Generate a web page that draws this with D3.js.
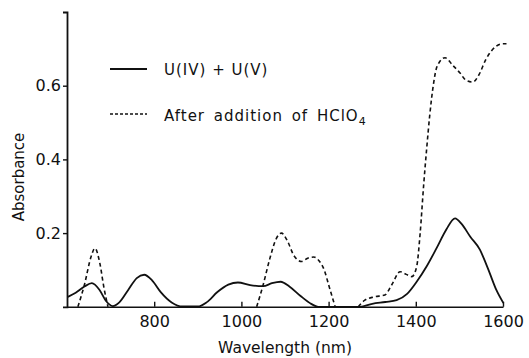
<!DOCTYPE html>
<html>
<head>
<meta charset="utf-8">
<script src="https://cdn.jsdelivr.net/npm/d3@7"></script>
<style>
  body { margin: 0; background: #fff; }
  svg { font-family: "DejaVu Sans", sans-serif; }
</style>
</head>
<body>
<svg id="chart" width="529" height="358"></svg>
<script>
// wavelength (nm) / absorbance
const solidNm = [602, 620, 640, 657, 675, 690, 705, 720, 740, 760, 777, 795, 815, 840, 865, 900, 920, 945, 970, 992, 1020, 1050, 1070, 1090, 1110, 1135, 1160, 1176, 1272, 1300, 1330, 1356, 1380, 1402, 1425, 1448, 1470, 1490, 1505, 1525, 1547, 1560, 1570, 1585, 1601];
const solidAbs = [0.027, 0.038, 0.055, 0.064, 0.045, 0.015, 0.002, 0.012, 0.045, 0.078, 0.087, 0.072, 0.040, 0.012, 0.001, 0.001, 0.012, 0.040, 0.060, 0.066, 0.059, 0.056, 0.064, 0.068, 0.055, 0.030, 0.008, 0, 0, 0.008, 0.013, 0.018, 0.035, 0.068, 0.11, 0.16, 0.21, 0.24, 0.225, 0.19, 0.155, 0.12, 0.09, 0.045, 0.01];

// NaN marks a break in the dashed trace
const dashNm = [625, 640, 655, 664, 675, 685, 694, 860, 1035, 1050, 1065, 1080, 1092, 1105, 1120, 1138, 1152, 1166, 1178, 1190, 1200, 1215, 1240, 1268, 1283, 1305, 1329, 1345, 1364, 1378, 1391, 1402, 1410, 1418, 1425, 1432, 1440, 1449, 1467, 1485, 1501, 1515, 1531, 1545, 1561, 1582, 1600, 1608];
const dashAbs = [0, 0.06, 0.135, 0.159, 0.12, 0.05, 0, NaN, 0, 0.06, 0.13, 0.185, 0.20, 0.18, 0.14, 0.123, 0.132, 0.135, 0.125, 0.10, 0.06, 0, NaN, 0, 0.018, 0.027, 0.032, 0.06, 0.095, 0.088, 0.082, 0.109, 0.2, 0.33, 0.43, 0.52, 0.60, 0.653, 0.676, 0.655, 0.635, 0.615, 0.61, 0.63, 0.672, 0.705, 0.714, 0.714];

const xTicks = [800, 1000, 1200, 1400, 1600];
const yTicks = [0.2, 0.4, 0.6];

const svg = d3.select("#chart");
const x = d3.scaleLinear().domain([600, 1600]).range([67, 503]);
const y = d3.scaleLinear().domain([0, 0.8]).range([306.8, 12]);

// x axis (ticks point inward)
const gx = svg.append("g")
  .attr("transform", "translate(0," + y(0) + ")")
  .call(d3.axisBottom(x).tickValues(xTicks).tickSizeInner(-5).tickSizeOuter(0).tickPadding(9).tickFormat(d3.format("d")));
gx.select(".domain").attr("stroke", "#111").attr("stroke-width", 1.6);
gx.selectAll(".tick line").attr("stroke", "#111").attr("stroke-width", 1.4);
gx.selectAll("text").attr("font-size", 16).attr("fill", "#111").attr("font-family", "DejaVu Sans");

// y axis
const gy = svg.append("g")
  .attr("transform", "translate(" + x(600) + ",0)")
  .call(d3.axisLeft(y).tickValues(yTicks).tickSize(4).tickPadding(2).tickFormat(d3.format(".1f")));
gy.select(".domain").attr("stroke", "#111").attr("stroke-width", 1.8);
gy.selectAll(".tick line").attr("stroke", "#111").attr("stroke-width", 1.4);
gy.selectAll("text").attr("font-size", 16).attr("fill", "#111").attr("font-family", "DejaVu Sans");

svg.append("text")
  .attr("x", 285).attr("y", 353)
  .attr("text-anchor", "middle")
  .attr("font-size", 15.5).attr("fill", "#111")
  .text("Wavelength (nm)");

svg.append("text")
  .attr("transform", "translate(24,177) rotate(-90)")
  .attr("text-anchor", "middle")
  .attr("font-size", 15).attr("fill", "#111")
  .text("Absorbance");

// curves
const line = d3.line()
  .defined(d => !isNaN(d[1]))
  .x(d => x(d[0]))
  .y(d => y(d[1]))
  .curve(d3.curveMonotoneX);

svg.append("path")
  .datum(solidNm.map((v, i) => [v, solidAbs[i]]))
  .attr("d", line)
  .attr("fill", "none").attr("stroke", "#111").attr("stroke-width", 1.8);

svg.append("path")
  .datum(dashNm.map((v, i) => [v, dashAbs[i]]))
  .attr("d", line)
  .attr("fill", "none").attr("stroke", "#111").attr("stroke-width", 1.6)
  .attr("stroke-dasharray", "4,3");

// legend
const legend = svg.append("g").attr("fill", "#111");
legend.append("line").attr("x1", 110).attr("x2", 147).attr("y1", 69).attr("y2", 69)
  .attr("stroke", "#111").attr("stroke-width", 1.8);
legend.append("text").attr("x", 164).attr("y", 75)
  .attr("font-size", 15).attr("letter-spacing", 1)
  .text("U(IV) + U(V)");
legend.append("line").attr("x1", 110).attr("x2", 147).attr("y1", 114).attr("y2", 114)
  .attr("stroke", "#111").attr("stroke-width", 1.4).attr("stroke-dasharray", "3,2");
const t2 = legend.append("text").attr("x", 164).attr("y", 121)
  .attr("font-size", 15).attr("letter-spacing", 1).attr("word-spacing", 3);
t2.append("tspan").text("After addition of HClO");
t2.append("tspan").attr("font-size", 11).attr("dy", 4).text("4");
</script>
</body>
</html>
